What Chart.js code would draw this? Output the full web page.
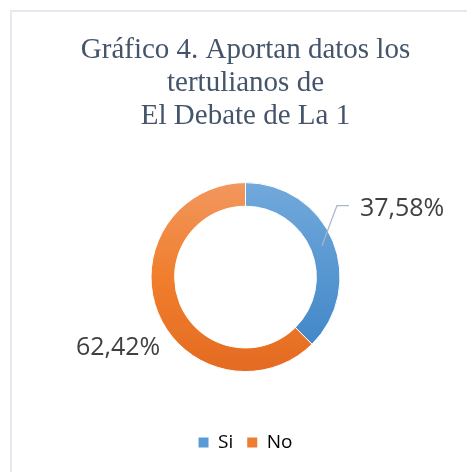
<!DOCTYPE html>
<html>
<head>
<meta charset="utf-8">
<script src="https://cdn.jsdelivr.net/npm/chart.js@4"></script>
<style>
  html, body { margin: 0; padding: 0; background: #fff; overflow: hidden; }
  #frame {
    position: absolute; left: 10px; top: 10px;
    width: 480px; height: 490px;
    border: 2px solid #E4E8EF;
  }
  #wrap { position: absolute; left: 0; top: 0; width: 467px; height: 472px; }
</style>
</head>
<body>
<div id="frame"></div>
<div id="wrap"><canvas id="pieChart" width="467" height="472"></canvas></div>
<script>
// ===== DATA =====
const titleLines = ['Gráfico 4. Aportan datos los', 'tertulianos de', 'El Debate de La 1'];
const categories = ['Si', 'No'];
const percentages = [37.58, 62.42];

const RADIUS = 94.5;

// vertical gradients, like the office-style shading
function sliceGradient(chart, stops) {
  const area = chart.chartArea;
  if (!area) return stops[stops.length - 1][1];
  const cy = (area.top + area.bottom) / 2;
  const g = chart.ctx.createLinearGradient(0, cy - RADIUS, 0, cy + RADIUS);
  stops.forEach(s => g.addColorStop(s[0], s[1]));
  return g;
}
const blueStops = [[0, '#72A9DC'], [1, '#3A82C5']];
const orangeStops = [[0, '#F2975F'], [0.5, '#F07E2C'], [1, '#E46B22']];

const fmt = v => v.toFixed(2).replace('.', ',') + '%';

// ===== LABELS =====
const labelPlugin = {
  id: 'sliceLabels',
  afterDatasetsDraw(chart) {
    const ctx = chart.ctx;
    const arcs = chart.getDatasetMeta(0).data;
    ctx.save();
    ctx.font = '25px "Open Sans", sans-serif';
    ctx.fillStyle = '#404040';
    ctx.textBaseline = 'middle';

    arcs.forEach((arc, i) => {
      const p = arc.getProps(['x', 'y', 'startAngle', 'endAngle', 'innerRadius', 'outerRadius'], true);
      const mid = (p.startAngle + p.endAngle) / 2;
      const text = fmt(percentages[i]);
      if (i === 0) {
        // leader line from middle of ring
        const rm = (p.innerRadius + p.outerRadius) / 2;
        const sx = p.x + Math.cos(mid) * rm;
        const sy = p.y + Math.sin(mid) * rm;
        const ex = sx + 15, ey = sy - 40;
        ctx.strokeStyle = '#A9B6C8';
        ctx.lineWidth = 1.3;
        ctx.beginPath();
        ctx.moveTo(sx, sy);
        ctx.lineTo(ex, ey);
        ctx.lineTo(ex + 12, ey);
        ctx.stroke();
        ctx.textAlign = 'left';
        ctx.fillText(text, ex + 23, ey + 3);
      } else {
        const ox = p.x + Math.cos(mid) * p.outerRadius;
        const oy = p.y + Math.sin(mid) * p.outerRadius;
        ctx.textAlign = 'center';
        ctx.fillText(text, ox - 40, oy + 35);
      }
    });
    ctx.restore();
  }
};

// ===== CHART =====
new Chart(document.getElementById('pieChart'), {
  type: 'doughnut',
  data: {
    labels: categories,
    datasets: [{
      data: percentages,
      backgroundColor: ctx => sliceGradient(ctx.chart, ctx.dataIndex === 0 ? blueStops : orangeStops),
      borderColor: '#ffffff',
      borderWidth: 1,
      radius: RADIUS,
      cutout: '75%'
    }]
  },
  options: {
    responsive: false,
    animation: false,
    layout: { padding: { top: 24, left: 24, right: 0, bottom: 10 } },
    plugins: {
      title: {
        display: true,
        text: titleLines,
        color: '#44546A',
        font: { family: '"Liberation Serif", "Times New Roman", serif', size: 29, weight: 'normal', lineHeight: 1.14 },
        padding: { top: 10, bottom: 2 }
      },
      legend: {
        position: 'bottom',
        labels: {
          color: '#595959',
          font: { family: '"Open Sans", sans-serif', size: 19 },
          boxWidth: 10,
          boxHeight: 10,
          padding: 14,
          generateLabels: chart => categories.map((c, i) => ({
            text: c,
            fillStyle: i === 0 ? '#5B9BD5' : '#ED7D31',
            strokeStyle: i === 0 ? '#5B9BD5' : '#ED7D31',
            lineWidth: 0,
            index: i
          }))
        }
      },
      tooltip: { enabled: false }
    }
  },
  plugins: [labelPlugin]
});
</script>
</body>
</html>
